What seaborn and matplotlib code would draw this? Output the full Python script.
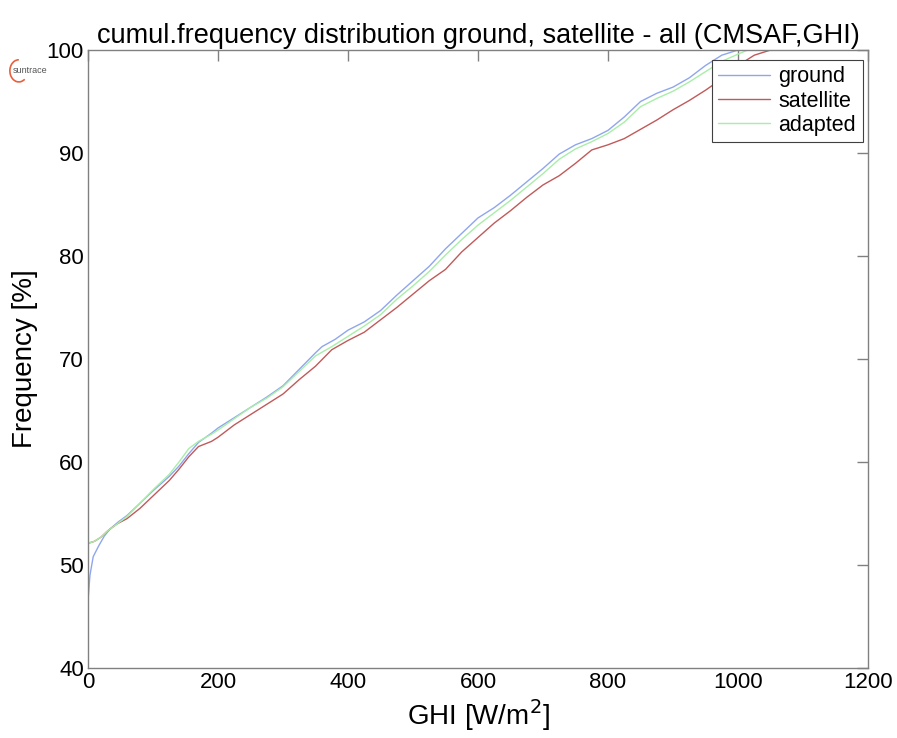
import numpy as np
import pandas as pd
import matplotlib
matplotlib.use("Agg")
import matplotlib.pyplot as plt
from matplotlib.patches import Arc
import seaborn as sns

# ---- data ----
ghi_ground = [0, 3, 8, 16, 25, 34, 47, 60, 80, 100, 125, 140, 155, 170, 190, 200, 225, 250, 275, 300,
              325, 350, 360, 380, 400, 425, 450, 475, 500, 525, 550, 575, 600, 625, 650, 675, 700,
              725, 750, 775, 800, 825, 850, 875, 900, 925, 950, 975, 1000]
freq_ground = [46.5, 49.0, 50.8, 51.8, 52.8, 53.5, 54.2, 54.8, 56.0, 57.2, 58.6, 59.6, 60.8, 61.9, 62.8, 63.3,
               64.3, 65.3, 66.3, 67.4, 69.0, 70.6, 71.2, 71.9, 72.8, 73.6, 74.7, 76.2, 77.6, 79.0, 80.7,
               82.2, 83.7, 84.7, 85.9, 87.2, 88.5, 89.9, 90.8, 91.4, 92.2, 93.5, 95.0, 95.8, 96.4, 97.3,
               98.5, 99.5, 100.0]

ghi_sat = [0, 10, 20, 30, 45, 60, 80, 100, 125, 140, 155, 170, 190, 200, 225, 250, 275, 300, 325, 350,
           375, 400, 425, 450, 475, 500, 525, 550, 575, 600, 625, 650, 675, 700, 725, 750, 775, 800,
           825, 850, 875, 900, 925, 950, 975, 1000, 1025, 1050]
freq_sat = [52.1, 52.3, 52.7, 53.3, 54.0, 54.5, 55.5, 56.7, 58.2, 59.3, 60.5, 61.5, 62.0, 62.4, 63.6, 64.6,
            65.6, 66.6, 68.0, 69.3, 70.9, 71.8, 72.6, 73.8, 75.0, 76.3, 77.6, 78.7, 80.4, 81.8, 83.2,
            84.4, 85.7, 86.9, 87.8, 89.0, 90.3, 90.8, 91.4, 92.3, 93.2, 94.2, 95.1, 96.1, 97.2, 98.5,
            99.5, 100.0]

ghi_adapt = [0, 10, 20, 30, 45, 60, 80, 100, 125, 140, 155, 170, 190, 200, 225, 250, 275, 300, 325, 350,
             375, 400, 425, 450, 475, 500, 525, 550, 575, 600, 625, 650, 675, 700, 725, 750, 775, 800,
             825, 850, 875, 900, 925, 950, 975, 1000, 1015]
freq_adapt = [52.1, 52.3, 52.7, 53.3, 54.0, 54.7, 56.0, 57.3, 58.8, 60.0, 61.3, 62.0, 62.7, 63.1, 64.2,
              65.3, 66.2, 67.3, 68.8, 70.3, 71.2, 72.2, 73.2, 74.3, 75.8, 77.1, 78.5, 80.1, 81.6, 83.0,
              84.2, 85.4, 86.7, 88.0, 89.4, 90.4, 91.1, 91.9, 93.0, 94.5, 95.3, 96.0, 96.9, 97.9, 98.9,
              99.6, 100.0]

series_names = ["ground", "satellite", "adapted"]
x_ticks = [0, 200, 400, 600, 800, 1000, 1200]
y_ticks = [40, 50, 60, 70, 80, 90, 100]

df = pd.concat([
    pd.DataFrame({"GHI": ghi_ground, "freq": freq_ground, "series": "ground"}),
    pd.DataFrame({"GHI": ghi_sat, "freq": freq_sat, "series": "satellite"}),
    pd.DataFrame({"GHI": ghi_adapt, "freq": freq_adapt, "series": "adapted"}),
], ignore_index=True)

sns.set_style("white")
plt.rcParams["font.family"] = ["Liberation Sans", "DejaVu Sans"]
plt.rcParams["text.color"] = "black"
plt.rcParams["axes.labelcolor"] = "black"

fig = plt.figure(figsize=(8.97, 7.38), dpi=100)
ax = fig.add_axes([0.0981, 0.0949, 0.8696, 0.8373])

palette = {"ground": "#8fa6ee", "satellite": "#c05a5a", "adapted": "#a8eea8"}
sns.lineplot(data=df, x="GHI", y="freq", hue="series", hue_order=series_names,
             palette=palette, linewidth=1.0, ax=ax, sort=False, estimator=None)

ax.set_xlim(0, 1200)
ax.set_ylim(40, 100)
ax.set_xticks(x_ticks)
ax.set_yticks(y_ticks)
ax.tick_params(direction="in", length=8, width=1, colors="#808080", labelcolor="black",
               labelsize=16, top=True, right=True, pad=3)
for s in ax.spines.values():
    s.set_color("#808080")
    s.set_linewidth(1)

ax.set_xlabel("GHI [W/m$^2$]", fontsize=20, labelpad=3, color="black")
ax.set_ylabel("Frequency [%]", fontsize=20, labelpad=6, color="black")
ax.set_title("cumul.frequency distribution ground, satellite - all (CMSAF,GHI)", fontsize=19.5,
             pad=5, color="black")

leg = ax.legend(loc="upper right", bbox_to_anchor=(0.993, 0.984), fontsize=15.5, frameon=True,
                fancybox=False, edgecolor="#404040", framealpha=1, borderpad=0.3,
                labelspacing=0.15, handlelength=2.4, handletextpad=0.4, borderaxespad=0)
leg.get_frame().set_linewidth(0.8)
for t in leg.get_texts():
    t.set_color("black")

# small logo at top left
fig.text(0.014, 0.904, "suntrace", fontsize=6.5, color="#555555", va="center", ha="left")
arc = Arc((0.021, 0.904), 0.02, 0.03, theta1=90, theta2=300, color="#e8603c", lw=1.2,
          transform=fig.transFigure)
fig.add_artist(arc)

fig.savefig("out.png", dpi=100)
